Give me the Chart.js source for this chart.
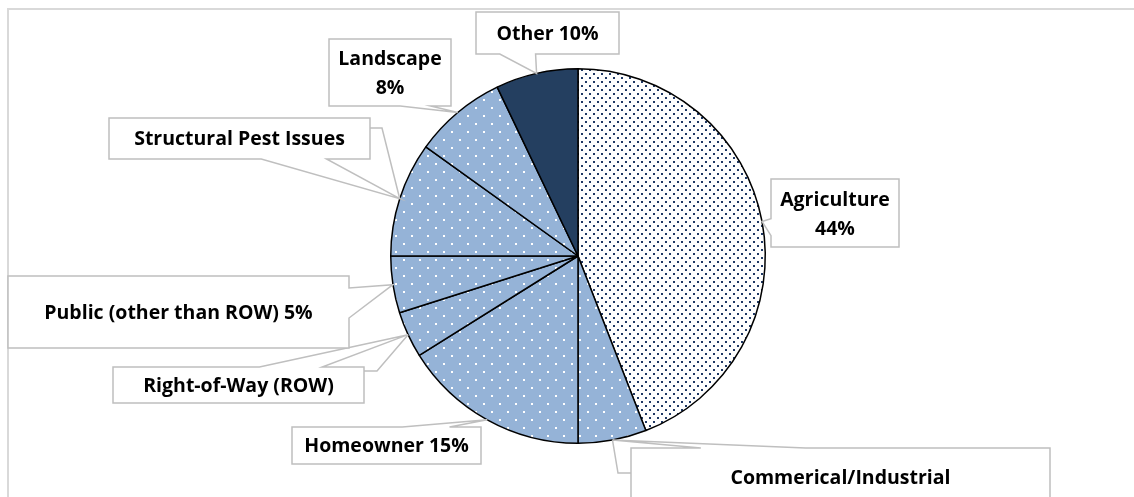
<!DOCTYPE html>
<html>
<head>
<meta charset="utf-8">
<script src="https://cdn.jsdelivr.net/npm/chart.js@4/dist/chart.umd.min.js"></script>
<style>
  html, body { margin:0; padding:0; background:#fff; }
  #wrap { position:relative; width:1134px; height:497px; }
</style>
</head>
<body>
<div id="wrap"><canvas id="pie"></canvas></div>
<script>
/* pie of use categories, Excel-style callout labels */

const categories = ['Agriculture','Commerical/Industrial','Homeowner','Right-of-Way (ROW)','Public (other than ROW)','Structural Pest Issues','Landscape','Other'];
const shares = [44.1, 5.9, 16.1, 4.0, 4.9, 9.9, 8.0, 7.1];
const labelLines = [
  ['Agriculture','44%'],
  ['Commerical/Industrial'],
  ['Homeowner 15%'],
  ['Right-of-Way (ROW)'],
  ['Public (other than ROW) 5%'],
  ['Structural Pest Issues'],
  ['Landscape','8%'],
  ['Other 10%']
];

// callout boxes: [x, y, w, h], pointer side + fractions along that side, optional leader elbow
const calloutLayout = [
  { box:[771,179,128,68], side:'left',   f:[7/12,10/12] },
  { box:[631,448,419,80], side:'top',    f:[2/12,5/12], leader:{side:'left', at:25, dx:-13} },
  { box:[292,427,189,37], side:'top',    f:[7/12,10/12] },
  { box:[113,367,251,36], side:'top',    f:[7/12,10/12], leader:{side:'right', at:4, dx:13} },
  { box:[8,276,341,72],   side:'right',  f:[2/12,7/12] },
  { box:[109,118,261,41], side:'bottom', f:[7/12,10/12], leader:{side:'right', at:10, dx:12} },
  { box:[329,39,122,67],  side:'bottom', f:[7/12,10/12] },
  { box:[476,12,143,42],  side:'bottom', f:[2/12,5/12] }
];

const LABEL_FONT = 'bold 19.5px "Open Sans", "Noto Sans", sans-serif';

function dotPattern(bg, dot, tile, dots, size) {
  const c = document.createElement('canvas');
  c.width = tile; c.height = tile;
  const x = c.getContext('2d');
  x.fillStyle = bg; x.fillRect(0,0,tile,tile);
  x.fillStyle = dot;
  dots.forEach(d => x.fillRect(d[0], d[1], size, size));
  return x.createPattern(c, 'repeat');
}

const agriFill = dotPattern('#ffffff', '#1f3864', 8, [[1,1],[5,5]], 2);
const blueFill = dotPattern('#95b3d7', '#ffffff', 16, [[3,3],[11,11]], 2);
const sliceColors = [agriFill, blueFill, blueFill, blueFill, blueFill, blueFill, blueFill, '#243f60'];

const frame = {
  id:'frame',
  beforeDraw(chart) {
    const ctx = chart.ctx;
    ctx.save();
    ctx.strokeStyle = '#d9d9d9';
    ctx.lineWidth = 2;
    ctx.strokeRect(8, 9, 1200, 600);
    ctx.restore();
  }
};

function sidePoint(b, side, f) {
  const [x,y,w,h] = b;
  if (side === 'top') return [x + w*f, y];
  if (side === 'bottom') return [x + w*f, y + h];
  if (side === 'left') return [x, y + h*f];
  return [x + w, y + h*f];
}

const callouts = {
  id:'callouts',
  afterDatasetsDraw(chart) {
    const ctx = chart.ctx;
    const arcs = chart.getDatasetMeta(0).data;
    ctx.save();
    arcs.forEach((arc, i) => {
      const L = calloutLayout[i];
      const p = arc.getProps(['x','y','startAngle','endAngle','outerRadius'], true);
      const mid = (p.startAngle + p.endAngle) / 2;
      const tip = [p.x + Math.cos(mid)*p.outerRadius, p.y + Math.sin(mid)*p.outerRadius];
      const [x,y,w,h] = L.box;
      const a = sidePoint(L.box, L.side, L.f[0]);
      const b = sidePoint(L.box, L.side, L.f[1]);
      // outline clockwise with the wedge inserted on its side
      ctx.beginPath();
      ctx.moveTo(x, y);
      if (L.side === 'top') { ctx.lineTo(a[0],a[1]); ctx.lineTo(tip[0],tip[1]); ctx.lineTo(b[0],b[1]); }
      ctx.lineTo(x+w, y);
      if (L.side === 'right') { ctx.lineTo(a[0],a[1]); ctx.lineTo(tip[0],tip[1]); ctx.lineTo(b[0],b[1]); }
      ctx.lineTo(x+w, y+h);
      if (L.side === 'bottom') { ctx.lineTo(b[0],b[1]); ctx.lineTo(tip[0],tip[1]); ctx.lineTo(a[0],a[1]); }
      ctx.lineTo(x, y+h);
      if (L.side === 'left') { ctx.lineTo(b[0],b[1]); ctx.lineTo(tip[0],tip[1]); ctx.lineTo(a[0],a[1]); }
      ctx.closePath();
      ctx.fillStyle = '#ffffff';
      ctx.fill();
      ctx.strokeStyle = '#bfbfbf';
      ctx.lineWidth = 1.5;
      ctx.stroke();

      if (L.leader) {
        const s = L.leader.side === 'left' ? [x, y + L.leader.at] : [x + w, y + L.leader.at];
        ctx.beginPath();
        ctx.moveTo(s[0], s[1]);
        ctx.lineTo(s[0] + L.leader.dx, s[1]);
        ctx.lineTo(tip[0], tip[1]);
        ctx.stroke();
      }

      const lines = labelLines[i];
      ctx.fillStyle = '#000000';
      ctx.font = LABEL_FONT;
      ctx.textAlign = 'center';
      ctx.textBaseline = 'middle';
      const cy = lines.length > 1 ? y + h/2 - 14 : (h > 60 && L.side === 'top' ? y + 29 : y + h/2);
      lines.forEach((t, k) => ctx.fillText(t, x + w/2, cy + k*29 + 1));
    });
    ctx.restore();
  }
};

new Chart(document.getElementById('pie'), {
  type: 'pie',
  data: {
    labels: categories,
    datasets: [{
      data: shares,
      backgroundColor: sliceColors,
      borderColor: '#000000',
      borderWidth: 1.5
    }]
  },
  options: {
    responsive: true,
    maintainAspectRatio: false,
    animation: false,
    layout: { padding: { left: 390, right: 368, top: 68, bottom: 53 } },
    plugins: { legend: { display:false }, tooltip: { enabled:false } }
  },
  plugins: [frame, callouts]
});
</script>
</body>
</html>
